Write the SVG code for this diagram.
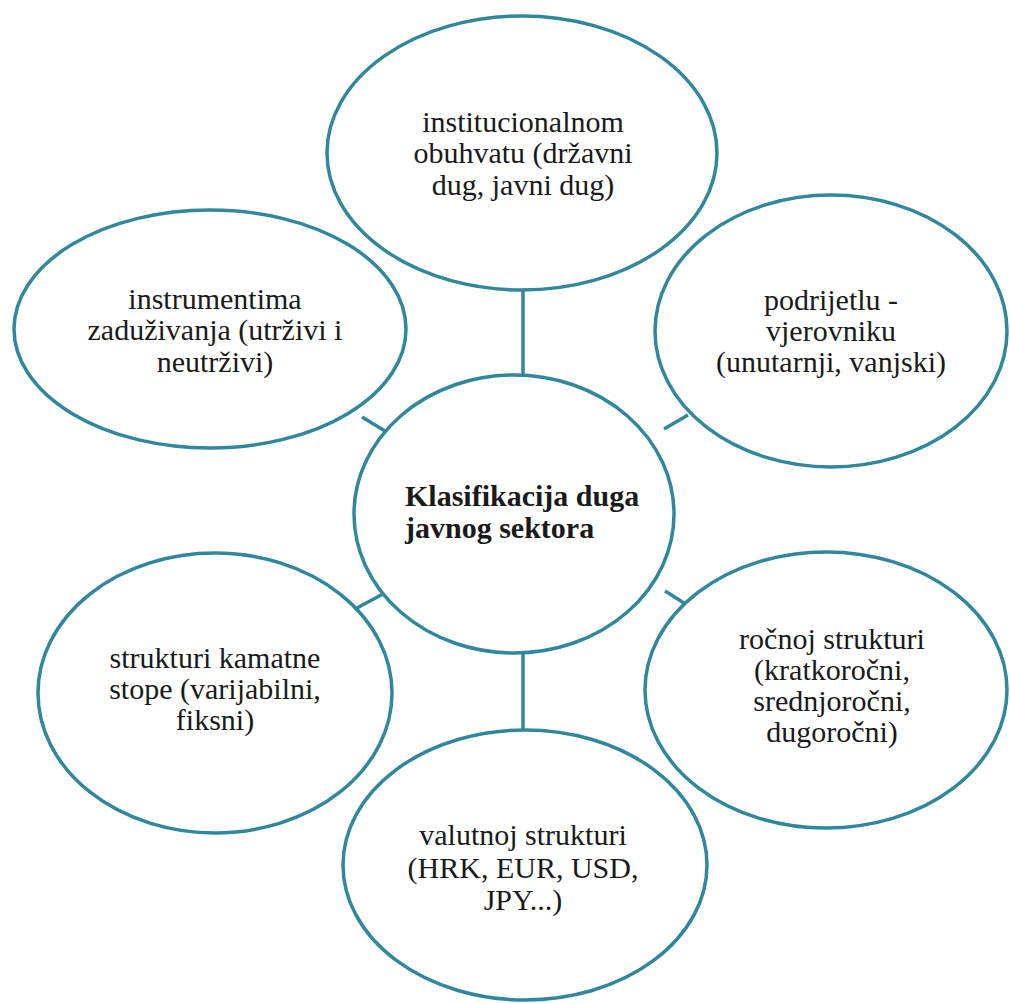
<svg xmlns="http://www.w3.org/2000/svg" width="1010" height="1003" viewBox="0 0 1010 1003">
<style>
.n{fill:none;stroke:#31879c;stroke-width:3.5}
.c{stroke:#31879c;stroke-width:3.5;fill:none}
.t{font-family:"Liberation Serif","Times New Roman",serif;font-size:30px;fill:#1a1a1a;text-anchor:middle}
.b{font-family:"Liberation Serif","Times New Roman",serif;font-size:30px;font-weight:bold;fill:#1a1a1a}
</style>
<rect width="1010" height="1003" fill="#ffffff"/>
<g id="connectors">
<line class="c" x1="523" y1="290" x2="523" y2="376"/>
<line class="c" x1="362" y1="417" x2="385" y2="431"/>
<line class="c" x1="664" y1="429" x2="688" y2="415"/>
<line class="c" x1="357" y1="608" x2="383" y2="594"/>
<line class="c" x1="665" y1="591" x2="684" y2="603"/>
<line class="c" x1="523" y1="652" x2="523" y2="731"/>
</g>
<g id="node-top">
<ellipse class="n" cx="522" cy="153" rx="195" ry="137"/>
<text class="t" x="523" y="132">institucionalnom</text>
<text class="t" x="523" y="163">obuhvatu (državni</text>
<text class="t" x="523" y="195">dug, javni dug)</text>
</g>
<g id="node-upper-left">
<ellipse class="n" cx="210" cy="329" rx="196" ry="119"/>
<text class="t" x="215" y="309">instrumentima</text>
<text class="t" x="215" y="340">zaduživanja (utrživi i</text>
<text class="t" x="215" y="372">neutrživi)</text>
</g>
<g id="node-upper-right">
<ellipse class="n" cx="831" cy="331" rx="176" ry="136"/>
<text class="t" x="831" y="310">podrijetlu -</text>
<text class="t" x="831" y="341">vjerovniku</text>
<text class="t" x="831" y="372">(unutarnji, vanjski)</text>
</g>
<g id="node-lower-left">
<ellipse class="n" cx="215" cy="693" rx="177" ry="140"/>
<text class="t" x="215" y="668">strukturi kamatne</text>
<text class="t" x="215" y="699">stope (varijabilni,</text>
<text class="t" x="215" y="730">fiksni)</text>
</g>
<g id="node-lower-right">
<ellipse class="n" cx="826" cy="690" rx="181" ry="138"/>
<text class="t" x="832" y="649">ročnoj strukturi</text>
<text class="t" x="832" y="680">(kratkoročni,</text>
<text class="t" x="832" y="711">srednjoročni,</text>
<text class="t" x="832" y="742">dugoročni)</text>
</g>
<g id="node-bottom">
<ellipse class="n" cx="525" cy="865" rx="182" ry="135"/>
<text class="t" x="523" y="845">valutnoj strukturi</text>
<text class="t" x="523" y="878">(HRK, EUR, USD,</text>
<text class="t" x="523" y="910">JPY...)</text>
</g>
<g id="node-center">
<ellipse class="n" cx="514" cy="514" rx="160" ry="139"/>
<text class="b" x="405" y="506">Klasifikacija duga</text>
<text class="b" x="405" y="538">javnog sektora</text>
</g>
</svg>
